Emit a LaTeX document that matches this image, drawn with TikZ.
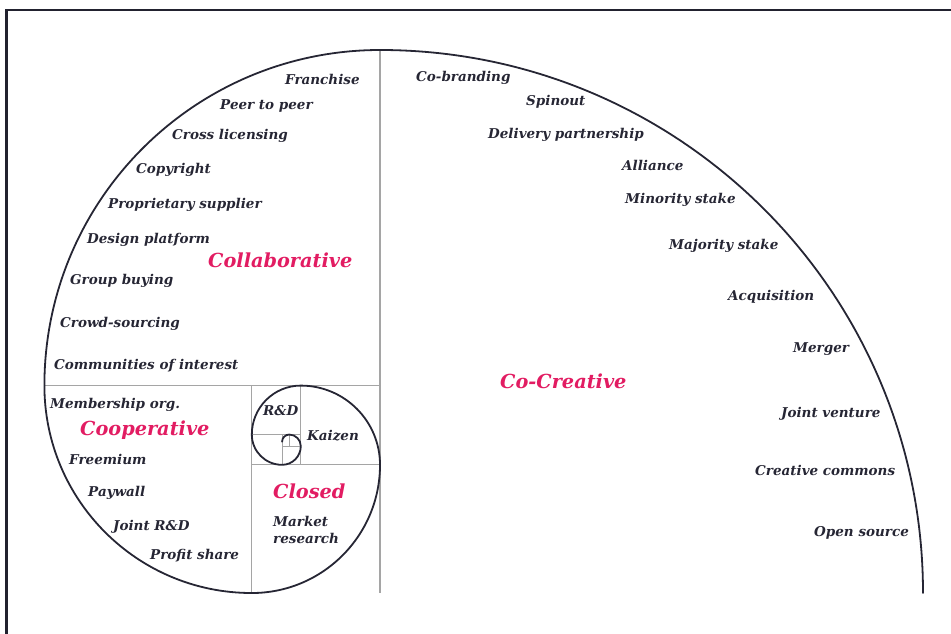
\documentclass[tikz,border=0pt]{standalone}
\usepackage{fontspec}
\setmainfont{DejaVu Serif}
\definecolor{ink}{RGB}{38,38,52}
\definecolor{rose}{RGB}{226,28,98}
\definecolor{rule}{RGB}{165,165,165}
\begin{document}
\begin{tikzpicture}[x=1pt, y=-1pt, line cap=round]
    \tikzset{
      item/.style={anchor=west, inner sep=0pt, text=ink, font=\fontsize{13.5}{17}\selectfont\bfseries\itshape},
      kind/.style={anchor=west, inner sep=0pt, text=rose, font=\fontsize{19.3}{21}\selectfont\bfseries\itshape},
      spiral/.style={draw=ink, line width=1.8pt},
      cell/.style={draw=rule, line width=1.1pt, line cap=butt}
    }
  % parameters
  \def\R{543}      % radius of the outer quarter turn
  \def\phi{1.618}  % each turn shrinks by this ratio
  \useasboundingbox (0,0) rectangle (951,634);

  % frame (only top and left edge show)
  \draw[line width=2.2pt, draw=ink!90!black, line cap=butt] (6.5,634) -- (6.5,10) -- (951,10);

  % spiral, remembering where each quarter turn ends
  \path (923,593) foreach \k in {0,...,9} {
      arc[start angle={-90*\k}, delta angle=-90, radius={\R/\phi^\k}] coordinate (e\k)
    };

  % square cells, from each turn's end back to its centre
  \foreach \k in {0,...,8} {
    \draw[cell] (e\k) -- ++({90-90*\k}:{\R/\phi^\k});
  }

  % spiral last so it sits on top
  \draw[spiral] (923,593) foreach \k in {0,...,9} {
      arc[start angle={-90*\k}, delta angle=-90, radius={\R/\phi^\k}]
    };

  % collaborative
  \node[item] (franchise) at (285,79)  {Franchise};
  \node[item] (peer)      at (220,106) {Peer to peer};
  \node[item] (cross)     at (172,136) {Cross licensing};
  \node[item] (copyright) at (136,170) {Copyright};
  \node[item] (supplier)  at (108,205) {Proprietary supplier};
  \node[item] (platform)  at (87,240)  {Design platform};
  \node[kind] (collab)    at (208,260) {Collaborative};
  \node[item] (group)     at (70,281)  {Group buying};
  \node[item] (crowd)     at (60,324)  {Crowd-sourcing};
  \node[item] (communities) at (54,366) {Communities of interest};

  % cooperative
  \node[item] (membership) at (50,405)  {Membership org.};
  \node[kind] (coop)       at (80,430)  {Cooperative};
  \node[item] (freemium)   at (69,459)  {Freemium};
  \node[item] (paywall)    at (88,493)  {Paywall};
  \node[item] (jointrd)    at (113,527) {Joint R\&D};
  \node[item] (profit)     at (150,556) {Profit share};

  % closed
  \node[item] (rd)     at (263,411) {R\&D};
  \node[item] (kaizen) at (307,436) {Kaizen};
  \node[kind] (closed) at (273,491) {Closed};
  \node[item, align=left] (market) at (273,529.5) {Market\\research};

  % co-creative
  \node[item] (cobrand)   at (416,78)  {Co-branding};
  \node[item] (spinout)   at (526,102) {Spinout};
  \node[item] (delivery)  at (488,135) {Delivery partnership};
  \node[item] (alliance)  at (622,165) {Alliance};
  \node[item] (minority)  at (625,200) {Minority stake};
  \node[item] (majority)  at (669,246) {Majority stake};
  \node[item] (acquire)   at (728,297) {Acquisition};
  \node[item] (merger)    at (793,349) {Merger};
  \node[kind] (cocreate)  at (500,381) {Co-Creative};
  \node[item] (venture)   at (781,414) {Joint venture};
  \node[item] (commons)   at (755,470) {Creative commons};
  \node[item] (opensrc)   at (814,533) {Open source};
\end{tikzpicture}
\end{document}
